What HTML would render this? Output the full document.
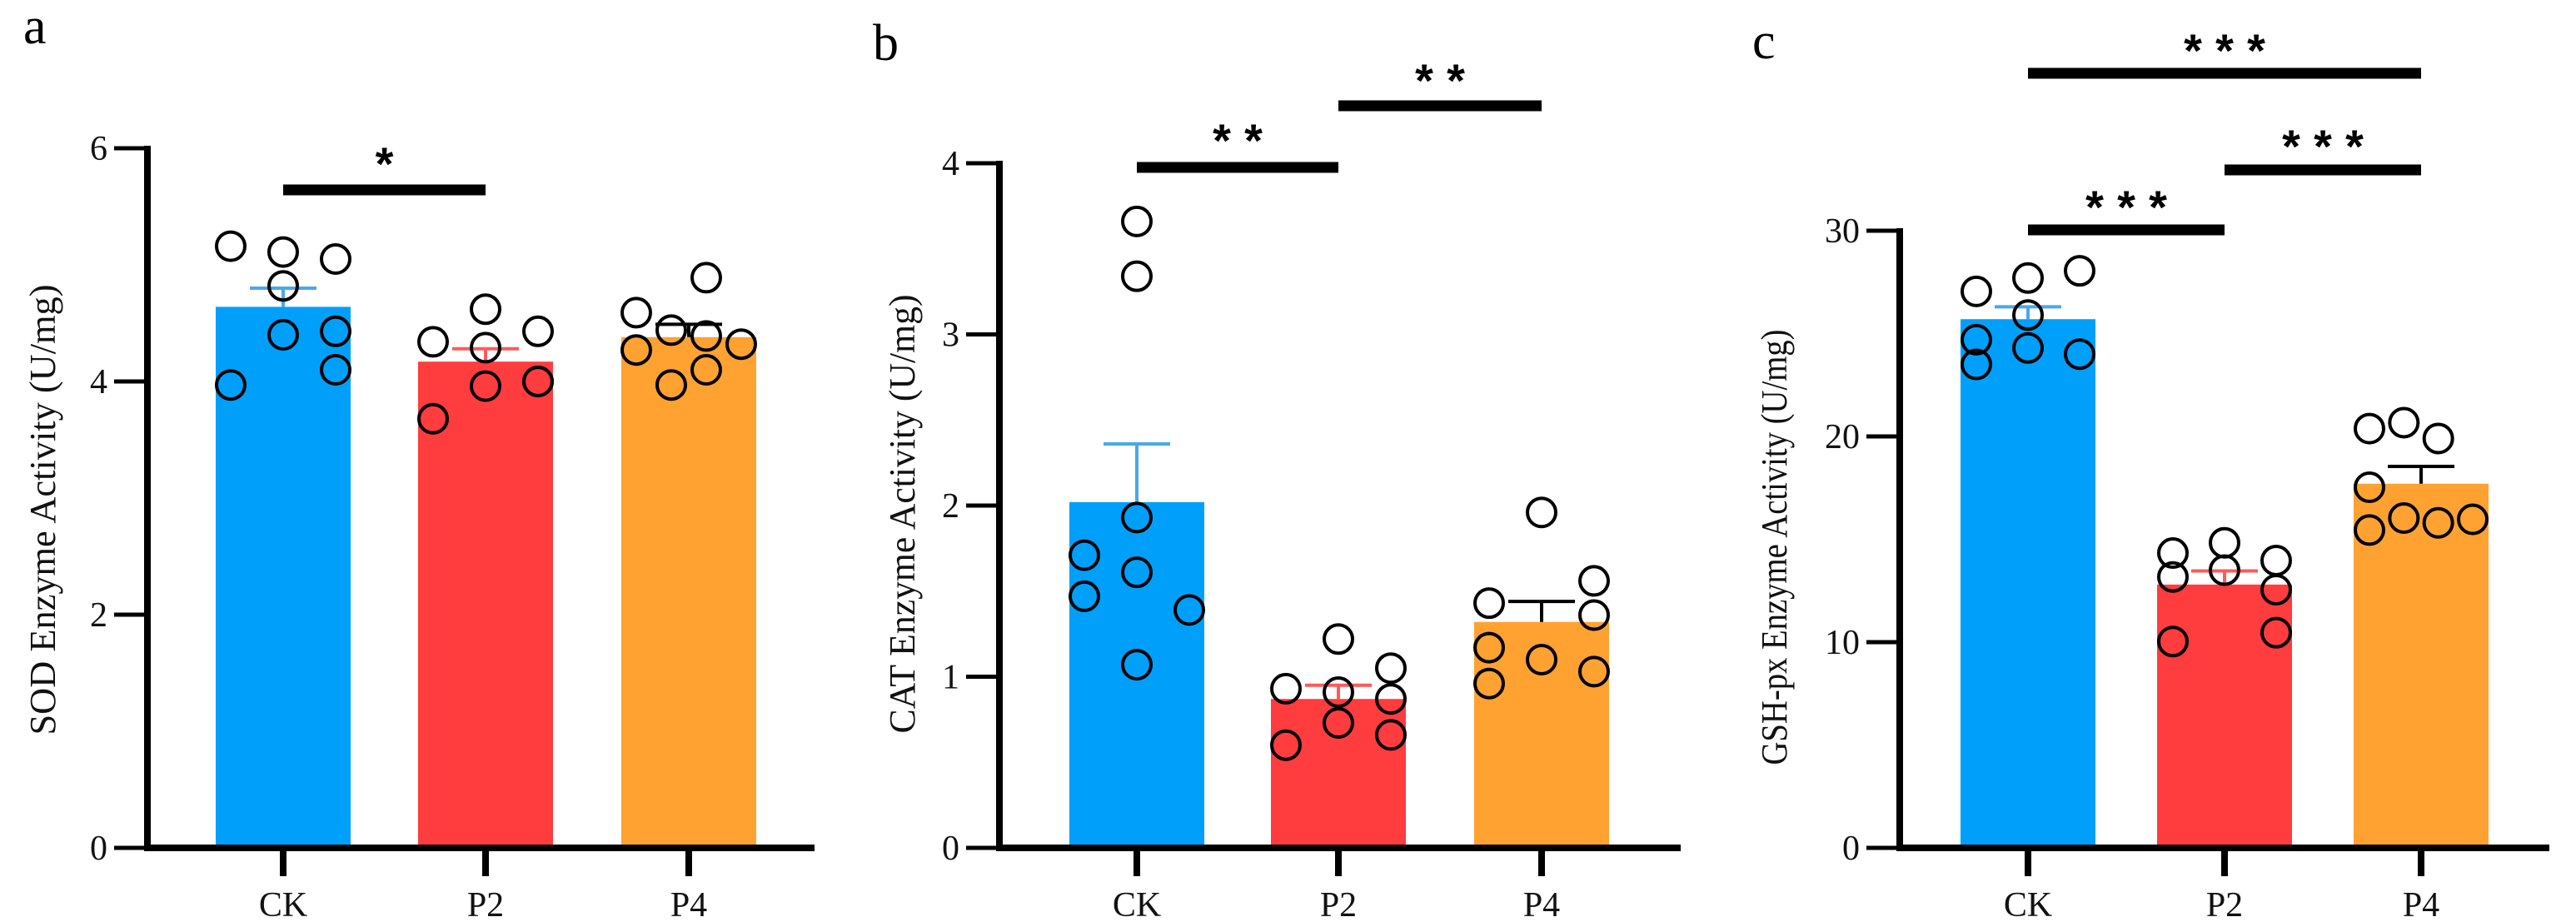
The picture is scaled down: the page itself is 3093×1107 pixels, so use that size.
<!DOCTYPE html>
<html><head><meta charset="utf-8"><style>
html,body{margin:0;padding:0;background:#fff;}
svg{display:block;}
text{font-family:"Liberation Serif",serif;}
</style></head>
<body>
<svg id="chart" width="3093" height="1107" viewBox="0 0 3093 1107" xmlns="http://www.w3.org/2000/svg"></svg>
<script>
// ---- data ----
const categories = ["CK","P2","P4"];
const sodMeans = [4.64, 4.17, 4.38];
const sodErr = [4.80, 4.28, 4.49];
const sodCK = [5.16,5.11,5.05,4.82,4.40,4.43,4.10,3.97];
const sodP2 = [4.62,4.43,4.34,4.29,4.00,3.96,4.00,3.68];
const sodP4 = [4.59,4.44,4.89,4.39,4.32,4.27,4.10,3.97];
const catMeans = [2.02, 0.87, 1.32];
const catErr = [2.36, 0.95, 1.44];
const catCK = [3.66,3.34,1.93,1.71,1.61,1.47,1.39,1.07];
const catP2 = [1.22,1.05,0.93,0.91,0.87,0.73,0.66,0.60];
const catP4 = [1.96,1.56,1.43,1.36,1.17,1.10,1.03,0.96];
const gshMeans = [25.7, 12.8, 17.7];
const gshErr = [26.3, 13.46, 18.54];
const gshCK = [28.05,27.7,27.05,25.9,24.7,24.3,24.0,23.5];
const gshP2 = [14.83,14.33,13.97,13.5,13.17,12.55,10.46,10.03];
const gshP4 = [20.67,20.38,19.9,17.53,16.03,15.97,15.8,15.45];
const sodTicks = [0,2,4,6];
const catTicks = [0,1,2,3,4];
const gshTicks = [0,10,20,30];
// column index of each dot (jitter columns)
const T = 1/3;
const col3A = [-1,0,1,0,0,1,1,-1];
const col3B = [0,1,-1,0,1,0,1,-1];
const col4A = [-1,-T,T,T,1,-1,T,-T];
const bCK = [0,0,0,-1,0,-1,1,0];
const bP2 = [0,1,-1,0,1,0,1,-1];
const bP4 = [0,1,-1,1,-1,0,1,-1];
const cCK = [1,0,-1,0,-1,0,1,-1];
const cP2 = [0,-1,1,0,-1,1,1,-1];
const c4 = [-T,-1,T,-1,-T,1,T,-1];

const NS="http://www.w3.org/2000/svg";
const svg=document.getElementById('chart');
function mk(tag,attrs,parent){const e=document.createElementNS(NS,tag);for(const k in attrs)e.setAttribute(k,attrs[k]);(parent||svg).appendChild(e);return e;}

const fills=["#00a0fa","#ff3c3e","#ffa232"];
const errCol=["#4aa8e8","#ff5a5a","#000"];

function panel(p){
  const g=mk('g',{});
  
  
  const y=v=>p.y0-(v-0)/(p.max)*(p.y0-p.yTop);
  const xc=i=>p.cx[i];
  const L=mk('text',{x:p.letterX,y:p.letterY,'font-size':62,fill:'#000'},g);L.textContent=p.letter;
  
  
  for(let i=0;i<3;i++){
    const r=mk('rect',{x:xc(i)-81,y:y(p.means[i]),width:162,height:p.y0-y(p.means[i]),fill:fills[i]},g);
    
    
  }
  for(let i=0;i<3;i++){
    const e=mk('path',{d:`M${xc(i)},${y(p.means[i])} V${y(p.err[i])} M${xc(i)-40},${y(p.err[i])} H${xc(i)+40}`,stroke:errCol[i],'stroke-width':4,fill:'none'},g);
    
    
  }
  for(let i=0;i<3;i++){
    const vals=p.pts[i], cols=p.cols[i];
    for(let j=0;j<vals.length;j++){
      const c=mk('circle',{cx:xc(i)+cols[j]*p.step,cy:y(vals[j]),r:17,fill:'none',stroke:'#000','stroke-width':4},g);
      
      
    }
  }
  const ax=mk('path',{d:`M${p.ax},${p.yTop-3} V${p.y0} M${p.ax-4},${p.y0} H${p.xEnd}`,stroke:'#000','stroke-width':8,fill:'none'},g);
  
  
  p.ticks.forEach(t=>{
    const tk=mk('line',{x1:p.ax-40,x2:p.ax,y1:y(t),y2:y(t),stroke:'#000','stroke-width':5},g);
    
    
    const tl=mk('text',{x:p.ax-48,y:y(t)+14,'font-size':42,'text-anchor':'end',fill:'#111'},g);tl.textContent=t;
    
    
  });
  for(let i=0;i<3;i++){
    const tk=mk('line',{x1:xc(i),x2:xc(i),y1:p.y0,y2:p.y0+34,stroke:'#000','stroke-width':8},g);
    
    
    const tl=mk('text',{x:xc(i),y:p.y0+82,'font-size':42,'text-anchor':'middle',fill:'#111'},g);tl.textContent=categories[i];
    
    
  }
  const yt=mk('text',{x:0,y:0,'font-size':44,'text-anchor':'middle',fill:'#111',transform:`translate(${p.titleX},${p.titleY}) rotate(-90)`,textLength:p.titleLen,lengthAdjust:'spacingAndGlyphs'},g);
  yt.textContent=p.title;
  
  
  p.sig.forEach(s=>{
    const ln=mk('line',{x1:xc(s.a),x2:xc(s.b),y1:s.y,y2:s.y,stroke:'#000','stroke-width':13},g);
    
    
    const mid=(xc(s.a)+xc(s.b))/2;
    for(let k=0;k<s.n;k++){
      const st=mk('text',{x:mid+(k-(s.n-1)/2)*38,y:s.sy+31,'font-size':56,'font-weight':'bold','text-anchor':'middle',fill:'#000',style:'font-family:"Liberation Sans",sans-serif'},g);
      st.textContent='*';
      
      
    }
  });
}

panel({letter:'a',letterX:28,letterY:52,ax:177,y0:1018,yTop:178,max:6,xEnd:978,cx:[340,583,827],
  means:sodMeans,err:sodErr,pts:[sodCK,sodP2,sodP4],cols:[col3A,col3B,col4A],step:63,ticks:sodTicks,
  title:'SOD Enzyme Activity (U/mg)',titleX:66,titleY:612,titleLen:541,
  sig:[{a:0,b:1,y:228,sy:185,n:1}]});
panel({letter:'b',letterX:1048,letterY:72,ax:1200,y0:1018,yTop:196,max:4,xEnd:2018,cx:[1365,1607,1851],
  means:catMeans,err:catErr,pts:[catCK,catP2,catP4],cols:[bCK,bP2,bP4],step:63,ticks:catTicks,
  title:'CAT Enzyme Activity (U/mg)',titleX:1098,titleY:617,titleLen:527,
  sig:[{a:0,b:1,y:201,sy:157,n:2},{a:1,b:2,y:127,sy:85,n:2}]});
panel({letter:'c',letterX:2104,letterY:70,ax:2281,y0:1018,yTop:277,max:30,xEnd:3061,cx:[2435,2671,2907],
  means:gshMeans,err:gshErr,pts:[gshCK,gshP2,gshP4],cols:[cCK,cP2,c4],step:62,ticks:gshTicks,
  title:'GSH-px Enzyme Activity (U/mg)',titleX:2145,titleY:657,titleLen:523,
  sig:[{a:0,b:1,y:276,sy:237,n:3},{a:1,b:2,y:204,sy:164,n:3},{a:0,b:2,y:88,sy:49,n:3}]});
</script>
</body></html>
